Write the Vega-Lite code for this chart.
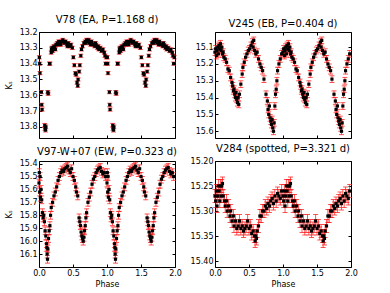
{
"$schema": "https://vega.github.io/schema/vega-lite/v6.json",
"padding": {"left": 4, "top": 14, "right": 0, "bottom": 0},
"config": {
 "font": "DejaVu Sans",
 "view": {"stroke": "#000", "strokeWidth": 1},
 "axis": {"domain": false, "grid": false, "tickColor": "#000", "tickSize": -3, "labelFontSize": 8, "labelColor": "#000", "labelFont": "DejaVu Sans", "titleFont": "DejaVu Sans", "titleFontSize": 8, "titleFontWeight": "normal", "titleColor": "#000", "labelPadding": 5, "labelFlush": false, "labelOverlap": false},
 "title": {"font": "DejaVu Sans", "fontSize": 10, "fontWeight": "normal", "offset": 3, "frame": "group", "color": "#000"}
},
"datasets": {
"a": [
{"p":0.005,"m":13.36,"e":0.01},{"p":0.01,"m":13.40,"e":0.01},{"p":0.015,"m":13.46,"e":0.01},{"p":0.035,"m":13.58,"e":0.01},{"p":0.04,"m":13.66,"e":0.01},{"p":0.045,"m":13.69,"e":0.01},{"p":0.085,"m":13.79,"e":0.012},{"p":0.09,"m":13.81,"e":0.012},{"p":0.095,"m":13.82,"e":0.012},{"p":0.1,"m":13.80,"e":0.012},{"p":0.13,"m":13.58,"e":0.01},{"p":0.135,"m":13.59,"e":0.01},{"p":0.155,"m":13.40,"e":0.01},{"p":0.16,"m":13.40,"e":0.01},{"p":0.18,"m":13.33,"e":0.01},{"p":0.185,"m":13.31,"e":0.01},{"p":0.19,"m":13.30,"e":0.01},{"p":0.2,"m":13.32,"e":0.01},{"p":0.21,"m":13.30,"e":0.01},{"p":0.22,"m":13.29,"e":0.01},{"p":0.23,"m":13.30,"e":0.01},{"p":0.24,"m":13.31,"e":0.01},{"p":0.25,"m":13.28,"e":0.01},{"p":0.27,"m":13.27,"e":0.01},{"p":0.28,"m":13.28,"e":0.01},{"p":0.29,"m":13.26,"e":0.01},{"p":0.31,"m":13.27,"e":0.01},{"p":0.32,"m":13.28,"e":0.01},{"p":0.33,"m":13.26,"e":0.01},{"p":0.35,"m":13.25,"e":0.01},{"p":0.36,"m":13.26,"e":0.01},{"p":0.37,"m":13.27,"e":0.01},{"p":0.39,"m":13.26,"e":0.01},{"p":0.41,"m":13.28,"e":0.01},{"p":0.42,"m":13.29,"e":0.01},{"p":0.43,"m":13.27,"e":0.01},{"p":0.45,"m":13.29,"e":0.01},{"p":0.47,"m":13.28,"e":0.01},{"p":0.49,"m":13.30,"e":0.01},{"p":0.505,"m":13.36,"e":0.01},{"p":0.52,"m":13.41,"e":0.01},{"p":0.535,"m":13.46,"e":0.01},{"p":0.545,"m":13.47,"e":0.01},{"p":0.56,"m":13.52,"e":0.01},{"p":0.57,"m":13.54,"e":0.01},{"p":0.575,"m":13.50,"e":0.01},{"p":0.59,"m":13.45,"e":0.01},{"p":0.6,"m":13.41,"e":0.01},{"p":0.615,"m":13.35,"e":0.01},{"p":0.625,"m":13.31,"e":0.01},{"p":0.64,"m":13.29,"e":0.01},{"p":0.66,"m":13.27,"e":0.01},{"p":0.68,"m":13.26,"e":0.01},{"p":0.69,"m":13.27,"e":0.01},{"p":0.7,"m":13.25,"e":0.01},{"p":0.72,"m":13.26,"e":0.01},{"p":0.73,"m":13.25,"e":0.01},{"p":0.74,"m":13.27,"e":0.01},{"p":0.76,"m":13.28,"e":0.01},{"p":0.77,"m":13.26,"e":0.01},{"p":0.78,"m":13.27,"e":0.01},{"p":0.8,"m":13.28,"e":0.01},{"p":0.82,"m":13.29,"e":0.01},{"p":0.83,"m":13.27,"e":0.01},{"p":0.84,"m":13.28,"e":0.01},{"p":0.86,"m":13.30,"e":0.01},{"p":0.87,"m":13.29,"e":0.01},{"p":0.88,"m":13.31,"e":0.01},{"p":0.9,"m":13.30,"e":0.01},{"p":0.92,"m":13.32,"e":0.01},{"p":0.94,"m":13.31,"e":0.01},{"p":0.96,"m":13.33,"e":0.01},{"p":0.97,"m":13.35,"e":0.01},{"p":0.98,"m":13.40,"e":0.01},{"p":0.99,"m":13.36,"e":0.01},
{"p":1.005,"m":13.36,"e":0.01},{"p":1.01,"m":13.40,"e":0.01},{"p":1.015,"m":13.46,"e":0.01},{"p":1.035,"m":13.58,"e":0.01},{"p":1.04,"m":13.66,"e":0.01},{"p":1.045,"m":13.69,"e":0.01},{"p":1.085,"m":13.79,"e":0.012},{"p":1.09,"m":13.81,"e":0.012},{"p":1.095,"m":13.82,"e":0.012},{"p":1.1,"m":13.80,"e":0.012},{"p":1.13,"m":13.58,"e":0.01},{"p":1.135,"m":13.59,"e":0.01},{"p":1.155,"m":13.40,"e":0.01},{"p":1.16,"m":13.40,"e":0.01},{"p":1.18,"m":13.33,"e":0.01},{"p":1.185,"m":13.31,"e":0.01},{"p":1.19,"m":13.30,"e":0.01},{"p":1.2,"m":13.32,"e":0.01},{"p":1.21,"m":13.30,"e":0.01},{"p":1.22,"m":13.29,"e":0.01},{"p":1.23,"m":13.30,"e":0.01},{"p":1.24,"m":13.31,"e":0.01},{"p":1.25,"m":13.28,"e":0.01},{"p":1.27,"m":13.27,"e":0.01},{"p":1.28,"m":13.28,"e":0.01},{"p":1.29,"m":13.26,"e":0.01},{"p":1.31,"m":13.27,"e":0.01},{"p":1.32,"m":13.28,"e":0.01},{"p":1.33,"m":13.26,"e":0.01},{"p":1.35,"m":13.25,"e":0.01},{"p":1.36,"m":13.26,"e":0.01},{"p":1.37,"m":13.27,"e":0.01},{"p":1.39,"m":13.26,"e":0.01},{"p":1.41,"m":13.28,"e":0.01},{"p":1.42,"m":13.29,"e":0.01},{"p":1.43,"m":13.27,"e":0.01},{"p":1.45,"m":13.29,"e":0.01},{"p":1.47,"m":13.28,"e":0.01},{"p":1.49,"m":13.30,"e":0.01},{"p":1.505,"m":13.36,"e":0.01},{"p":1.52,"m":13.41,"e":0.01},{"p":1.535,"m":13.46,"e":0.01},{"p":1.545,"m":13.47,"e":0.01},{"p":1.56,"m":13.52,"e":0.01},{"p":1.57,"m":13.54,"e":0.01},{"p":1.575,"m":13.50,"e":0.01},{"p":1.59,"m":13.45,"e":0.01},{"p":1.6,"m":13.41,"e":0.01},{"p":1.615,"m":13.35,"e":0.01},{"p":1.625,"m":13.31,"e":0.01},{"p":1.64,"m":13.29,"e":0.01},{"p":1.66,"m":13.27,"e":0.01},{"p":1.68,"m":13.26,"e":0.01},{"p":1.69,"m":13.27,"e":0.01},{"p":1.7,"m":13.25,"e":0.01},{"p":1.72,"m":13.26,"e":0.01},{"p":1.73,"m":13.25,"e":0.01},{"p":1.74,"m":13.27,"e":0.01},{"p":1.76,"m":13.28,"e":0.01},{"p":1.77,"m":13.26,"e":0.01},{"p":1.78,"m":13.27,"e":0.01},{"p":1.8,"m":13.28,"e":0.01},{"p":1.82,"m":13.29,"e":0.01},{"p":1.83,"m":13.27,"e":0.01},{"p":1.84,"m":13.28,"e":0.01},{"p":1.86,"m":13.30,"e":0.01},{"p":1.87,"m":13.29,"e":0.01},{"p":1.88,"m":13.31,"e":0.01},{"p":1.9,"m":13.30,"e":0.01},{"p":1.92,"m":13.32,"e":0.01},{"p":1.94,"m":13.31,"e":0.01},{"p":1.96,"m":13.33,"e":0.01},{"p":1.97,"m":13.35,"e":0.01},{"p":1.98,"m":13.40,"e":0.01},{"p":1.99,"m":13.36,"e":0.01}
],
"b": [
{"p":0.0,"m":15.13,"e":0.02},{"p":0.01,"m":15.11,"e":0.02},{"p":0.02,"m":15.15,"e":0.02},{"p":0.03,"m":15.12,"e":0.02},{"p":0.04,"m":15.10,"e":0.02},{"p":0.05,"m":15.14,"e":0.02},{"p":0.06,"m":15.09,"e":0.02},{"p":0.07,"m":15.11,"e":0.02},{"p":0.08,"m":15.08,"e":0.02},{"p":0.09,"m":15.12,"e":0.02},{"p":0.1,"m":15.10,"e":0.02},{"p":0.11,"m":15.14,"e":0.02},{"p":0.12,"m":15.13,"e":0.02},{"p":0.13,"m":15.16,"e":0.02},{"p":0.15,"m":15.17,"e":0.02},{"p":0.17,"m":15.19,"e":0.02},{"p":0.19,"m":15.23,"e":0.02},{"p":0.21,"m":15.24,"e":0.02},{"p":0.23,"m":15.28,"e":0.02},{"p":0.25,"m":15.31,"e":0.02},{"p":0.26,"m":15.33,"e":0.02},{"p":0.27,"m":15.36,"e":0.02},{"p":0.28,"m":15.35,"e":0.02},{"p":0.29,"m":15.38,"e":0.02},{"p":0.3,"m":15.40,"e":0.02},{"p":0.31,"m":15.37,"e":0.02},{"p":0.32,"m":15.41,"e":0.02},{"p":0.33,"m":15.43,"e":0.02},{"p":0.34,"m":15.40,"e":0.02},{"p":0.35,"m":15.44,"e":0.02},{"p":0.36,"m":15.38,"e":0.02},{"p":0.38,"m":15.32,"e":0.02},{"p":0.4,"m":15.26,"e":0.02},{"p":0.41,"m":15.22,"e":0.02},{"p":0.43,"m":15.19,"e":0.02},{"p":0.45,"m":15.16,"e":0.02},{"p":0.47,"m":15.14,"e":0.02},{"p":0.49,"m":15.12,"e":0.02},{"p":0.51,"m":15.11,"e":0.02},{"p":0.53,"m":15.09,"e":0.02},{"p":0.55,"m":15.07,"e":0.02},{"p":0.56,"m":15.10,"e":0.02},{"p":0.57,"m":15.06,"e":0.02},{"p":0.58,"m":15.12,"e":0.02},{"p":0.6,"m":15.14,"e":0.02},{"p":0.62,"m":15.13,"e":0.02},{"p":0.64,"m":15.17,"e":0.02},{"p":0.66,"m":15.20,"e":0.02},{"p":0.68,"m":15.22,"e":0.02},{"p":0.7,"m":15.24,"e":0.02},{"p":0.72,"m":15.29,"e":0.02},{"p":0.75,"m":15.38,"e":0.02},{"p":0.77,"m":15.42,"e":0.02},{"p":0.78,"m":15.47,"e":0.02},{"p":0.79,"m":15.50,"e":0.02},{"p":0.8,"m":15.45,"e":0.02},{"p":0.81,"m":15.52,"e":0.02},{"p":0.82,"m":15.54,"e":0.02},{"p":0.83,"m":15.56,"e":0.02},{"p":0.84,"m":15.53,"e":0.02},{"p":0.85,"m":15.58,"e":0.02},{"p":0.86,"m":15.60,"e":0.02},{"p":0.87,"m":15.55,"e":0.02},{"p":0.88,"m":15.45,"e":0.02},{"p":0.89,"m":15.38,"e":0.02},{"p":0.9,"m":15.35,"e":0.02},{"p":0.91,"m":15.30,"e":0.02},{"p":0.92,"m":15.24,"e":0.02},{"p":0.94,"m":15.20,"e":0.02},{"p":0.96,"m":15.17,"e":0.02},{"p":0.98,"m":15.14,"e":0.02},
{"p":1.0,"m":15.13,"e":0.02},{"p":1.01,"m":15.11,"e":0.02},{"p":1.02,"m":15.15,"e":0.02},{"p":1.03,"m":15.12,"e":0.02},{"p":1.04,"m":15.10,"e":0.02},{"p":1.05,"m":15.14,"e":0.02},{"p":1.06,"m":15.09,"e":0.02},{"p":1.07,"m":15.11,"e":0.02},{"p":1.08,"m":15.08,"e":0.02},{"p":1.09,"m":15.12,"e":0.02},{"p":1.1,"m":15.10,"e":0.02},{"p":1.11,"m":15.14,"e":0.02},{"p":1.12,"m":15.13,"e":0.02},{"p":1.13,"m":15.16,"e":0.02},{"p":1.15,"m":15.17,"e":0.02},{"p":1.17,"m":15.19,"e":0.02},{"p":1.19,"m":15.23,"e":0.02},{"p":1.21,"m":15.24,"e":0.02},{"p":1.23,"m":15.28,"e":0.02},{"p":1.25,"m":15.31,"e":0.02},{"p":1.26,"m":15.33,"e":0.02},{"p":1.27,"m":15.36,"e":0.02},{"p":1.28,"m":15.35,"e":0.02},{"p":1.29,"m":15.38,"e":0.02},{"p":1.3,"m":15.40,"e":0.02},{"p":1.31,"m":15.37,"e":0.02},{"p":1.32,"m":15.41,"e":0.02},{"p":1.33,"m":15.43,"e":0.02},{"p":1.34,"m":15.40,"e":0.02},{"p":1.35,"m":15.44,"e":0.02},{"p":1.36,"m":15.38,"e":0.02},{"p":1.38,"m":15.32,"e":0.02},{"p":1.4,"m":15.26,"e":0.02},{"p":1.41,"m":15.22,"e":0.02},{"p":1.43,"m":15.19,"e":0.02},{"p":1.45,"m":15.16,"e":0.02},{"p":1.47,"m":15.14,"e":0.02},{"p":1.49,"m":15.12,"e":0.02},{"p":1.51,"m":15.11,"e":0.02},{"p":1.53,"m":15.09,"e":0.02},{"p":1.55,"m":15.07,"e":0.02},{"p":1.56,"m":15.10,"e":0.02},{"p":1.57,"m":15.06,"e":0.02},{"p":1.58,"m":15.12,"e":0.02},{"p":1.6,"m":15.14,"e":0.02},{"p":1.62,"m":15.13,"e":0.02},{"p":1.64,"m":15.17,"e":0.02},{"p":1.66,"m":15.20,"e":0.02},{"p":1.68,"m":15.22,"e":0.02},{"p":1.7,"m":15.24,"e":0.02},{"p":1.72,"m":15.29,"e":0.02},{"p":1.75,"m":15.38,"e":0.02},{"p":1.77,"m":15.42,"e":0.02},{"p":1.78,"m":15.47,"e":0.02},{"p":1.79,"m":15.50,"e":0.02},{"p":1.8,"m":15.45,"e":0.02},{"p":1.81,"m":15.52,"e":0.02},{"p":1.82,"m":15.54,"e":0.02},{"p":1.83,"m":15.56,"e":0.02},{"p":1.84,"m":15.53,"e":0.02},{"p":1.85,"m":15.58,"e":0.02},{"p":1.86,"m":15.60,"e":0.02},{"p":1.87,"m":15.55,"e":0.02},{"p":1.88,"m":15.45,"e":0.02},{"p":1.89,"m":15.38,"e":0.02},{"p":1.9,"m":15.35,"e":0.02},{"p":1.91,"m":15.30,"e":0.02},{"p":1.92,"m":15.24,"e":0.02},{"p":1.94,"m":15.20,"e":0.02},{"p":1.96,"m":15.17,"e":0.02},{"p":1.98,"m":15.14,"e":0.02}
],
"c": [
{"p":0.0,"m":15.55,"e":0.03},{"p":0.005,"m":15.47,"e":0.03},{"p":0.01,"m":15.62,"e":0.03},{"p":0.015,"m":15.50,"e":0.03},{"p":0.02,"m":15.66,"e":0.03},{"p":0.03,"m":15.60,"e":0.03},{"p":0.04,"m":15.68,"e":0.03},{"p":0.05,"m":15.78,"e":0.03},{"p":0.06,"m":15.82,"e":0.03},{"p":0.07,"m":15.80,"e":0.03},{"p":0.08,"m":15.85,"e":0.03},{"p":0.09,"m":15.92,"e":0.03},{"p":0.1,"m":15.96,"e":0.03},{"p":0.11,"m":16.02,"e":0.03},{"p":0.115,"m":16.05,"e":0.03},{"p":0.12,"m":16.10,"e":0.03},{"p":0.125,"m":16.14,"e":0.03},{"p":0.13,"m":16.06,"e":0.03},{"p":0.14,"m":15.98,"e":0.03},{"p":0.15,"m":15.92,"e":0.03},{"p":0.16,"m":15.88,"e":0.03},{"p":0.17,"m":15.80,"e":0.03},{"p":0.18,"m":15.74,"e":0.03},{"p":0.2,"m":15.70,"e":0.03},{"p":0.22,"m":15.65,"e":0.03},{"p":0.24,"m":15.62,"e":0.03},{"p":0.26,"m":15.58,"e":0.03},{"p":0.28,"m":15.53,"e":0.03},{"p":0.3,"m":15.50,"e":0.03},{"p":0.32,"m":15.47,"e":0.03},{"p":0.34,"m":15.45,"e":0.03},{"p":0.36,"m":15.46,"e":0.03},{"p":0.38,"m":15.44,"e":0.03},{"p":0.4,"m":15.43,"e":0.03},{"p":0.42,"m":15.42,"e":0.03},{"p":0.44,"m":15.45,"e":0.03},{"p":0.46,"m":15.47,"e":0.03},{"p":0.48,"m":15.44,"e":0.03},{"p":0.5,"m":15.50,"e":0.03},{"p":0.52,"m":15.53,"e":0.03},{"p":0.54,"m":15.58,"e":0.03},{"p":0.55,"m":15.62,"e":0.03},{"p":0.57,"m":15.65,"e":0.03},{"p":0.59,"m":15.82,"e":0.03},{"p":0.6,"m":15.85,"e":0.03},{"p":0.61,"m":15.88,"e":0.03},{"p":0.62,"m":15.93,"e":0.03},{"p":0.63,"m":15.96,"e":0.03},{"p":0.64,"m":15.98,"e":0.03},{"p":0.65,"m":16.00,"e":0.03},{"p":0.66,"m":15.97,"e":0.03},{"p":0.67,"m":15.92,"e":0.03},{"p":0.68,"m":15.88,"e":0.03},{"p":0.69,"m":15.82,"e":0.03},{"p":0.7,"m":15.78,"e":0.03},{"p":0.72,"m":15.70,"e":0.03},{"p":0.74,"m":15.66,"e":0.03},{"p":0.76,"m":15.62,"e":0.03},{"p":0.78,"m":15.56,"e":0.03},{"p":0.8,"m":15.52,"e":0.03},{"p":0.82,"m":15.50,"e":0.03},{"p":0.84,"m":15.47,"e":0.03},{"p":0.86,"m":15.45,"e":0.03},{"p":0.88,"m":15.44,"e":0.03},{"p":0.9,"m":15.43,"e":0.03},{"p":0.92,"m":15.46,"e":0.03},{"p":0.94,"m":15.48,"e":0.03},{"p":0.96,"m":15.47,"e":0.03},{"p":0.98,"m":15.50,"e":0.03},
{"p":1.0,"m":15.55,"e":0.03},{"p":1.005,"m":15.47,"e":0.03},{"p":1.01,"m":15.62,"e":0.03},{"p":1.015,"m":15.50,"e":0.03},{"p":1.02,"m":15.66,"e":0.03},{"p":1.03,"m":15.60,"e":0.03},{"p":1.04,"m":15.68,"e":0.03},{"p":1.05,"m":15.78,"e":0.03},{"p":1.06,"m":15.82,"e":0.03},{"p":1.07,"m":15.80,"e":0.03},{"p":1.08,"m":15.85,"e":0.03},{"p":1.09,"m":15.92,"e":0.03},{"p":1.1,"m":15.96,"e":0.03},{"p":1.11,"m":16.02,"e":0.03},{"p":1.115,"m":16.05,"e":0.03},{"p":1.12,"m":16.10,"e":0.03},{"p":1.125,"m":16.14,"e":0.03},{"p":1.13,"m":16.06,"e":0.03},{"p":1.14,"m":15.98,"e":0.03},{"p":1.15,"m":15.92,"e":0.03},{"p":1.16,"m":15.88,"e":0.03},{"p":1.17,"m":15.80,"e":0.03},{"p":1.18,"m":15.74,"e":0.03},{"p":1.2,"m":15.70,"e":0.03},{"p":1.22,"m":15.65,"e":0.03},{"p":1.24,"m":15.62,"e":0.03},{"p":1.26,"m":15.58,"e":0.03},{"p":1.28,"m":15.53,"e":0.03},{"p":1.3,"m":15.50,"e":0.03},{"p":1.32,"m":15.47,"e":0.03},{"p":1.34,"m":15.45,"e":0.03},{"p":1.36,"m":15.46,"e":0.03},{"p":1.38,"m":15.44,"e":0.03},{"p":1.4,"m":15.43,"e":0.03},{"p":1.42,"m":15.42,"e":0.03},{"p":1.44,"m":15.45,"e":0.03},{"p":1.46,"m":15.47,"e":0.03},{"p":1.48,"m":15.44,"e":0.03},{"p":1.5,"m":15.50,"e":0.03},{"p":1.52,"m":15.53,"e":0.03},{"p":1.54,"m":15.58,"e":0.03},{"p":1.55,"m":15.62,"e":0.03},{"p":1.57,"m":15.65,"e":0.03},{"p":1.59,"m":15.82,"e":0.03},{"p":1.6,"m":15.85,"e":0.03},{"p":1.61,"m":15.88,"e":0.03},{"p":1.62,"m":15.93,"e":0.03},{"p":1.63,"m":15.96,"e":0.03},{"p":1.64,"m":15.98,"e":0.03},{"p":1.65,"m":16.00,"e":0.03},{"p":1.66,"m":15.97,"e":0.03},{"p":1.67,"m":15.92,"e":0.03},{"p":1.68,"m":15.88,"e":0.03},{"p":1.69,"m":15.82,"e":0.03},{"p":1.7,"m":15.78,"e":0.03},{"p":1.72,"m":15.70,"e":0.03},{"p":1.74,"m":15.66,"e":0.03},{"p":1.76,"m":15.62,"e":0.03},{"p":1.78,"m":15.56,"e":0.03},{"p":1.8,"m":15.52,"e":0.03},{"p":1.82,"m":15.50,"e":0.03},{"p":1.84,"m":15.47,"e":0.03},{"p":1.86,"m":15.45,"e":0.03},{"p":1.88,"m":15.44,"e":0.03},{"p":1.9,"m":15.43,"e":0.03},{"p":1.92,"m":15.46,"e":0.03},{"p":1.94,"m":15.48,"e":0.03},{"p":1.96,"m":15.47,"e":0.03},{"p":1.98,"m":15.50,"e":0.03}
],
"d": [
{"p":0.0,"m":15.27,"e":0.013},{"p":0.01,"m":15.28,"e":0.013},{"p":0.02,"m":15.26,"e":0.013},{"p":0.03,"m":15.29,"e":0.013},{"p":0.04,"m":15.27,"e":0.013},{"p":0.05,"m":15.25,"e":0.013},{"p":0.06,"m":15.26,"e":0.013},{"p":0.07,"m":15.28,"e":0.013},{"p":0.08,"m":15.25,"e":0.013},{"p":0.09,"m":15.27,"e":0.013},{"p":0.1,"m":15.25,"e":0.013},{"p":0.11,"m":15.245,"e":0.013},{"p":0.12,"m":15.27,"e":0.013},{"p":0.14,"m":15.28,"e":0.013},{"p":0.15,"m":15.29,"e":0.013},{"p":0.17,"m":15.28,"e":0.013},{"p":0.18,"m":15.30,"e":0.013},{"p":0.2,"m":15.29,"e":0.013},{"p":0.22,"m":15.31,"e":0.013},{"p":0.23,"m":15.30,"e":0.013},{"p":0.25,"m":15.32,"e":0.013},{"p":0.27,"m":15.31,"e":0.013},{"p":0.28,"m":15.33,"e":0.013},{"p":0.3,"m":15.32,"e":0.013},{"p":0.32,"m":15.335,"e":0.013},{"p":0.34,"m":15.33,"e":0.013},{"p":0.36,"m":15.32,"e":0.013},{"p":0.38,"m":15.335,"e":0.013},{"p":0.4,"m":15.33,"e":0.013},{"p":0.42,"m":15.34,"e":0.013},{"p":0.44,"m":15.335,"e":0.013},{"p":0.46,"m":15.33,"e":0.013},{"p":0.48,"m":15.32,"e":0.013},{"p":0.5,"m":15.335,"e":0.013},{"p":0.52,"m":15.33,"e":0.013},{"p":0.54,"m":15.345,"e":0.013},{"p":0.56,"m":15.34,"e":0.013},{"p":0.58,"m":15.35,"e":0.013},{"p":0.59,"m":15.36,"e":0.013},{"p":0.6,"m":15.35,"e":0.013},{"p":0.61,"m":15.355,"e":0.013},{"p":0.62,"m":15.34,"e":0.013},{"p":0.64,"m":15.33,"e":0.013},{"p":0.66,"m":15.31,"e":0.013},{"p":0.68,"m":15.31,"e":0.013},{"p":0.7,"m":15.30,"e":0.013},{"p":0.72,"m":15.30,"e":0.013},{"p":0.74,"m":15.29,"e":0.013},{"p":0.76,"m":15.295,"e":0.013},{"p":0.78,"m":15.285,"e":0.013},{"p":0.8,"m":15.29,"e":0.013},{"p":0.82,"m":15.28,"e":0.013},{"p":0.84,"m":15.275,"e":0.013},{"p":0.86,"m":15.285,"e":0.013},{"p":0.88,"m":15.27,"e":0.013},{"p":0.9,"m":15.28,"e":0.013},{"p":0.92,"m":15.265,"e":0.013},{"p":0.94,"m":15.27,"e":0.013},{"p":0.96,"m":15.275,"e":0.013},{"p":0.98,"m":15.26,"e":0.013},
{"p":1.0,"m":15.27,"e":0.013},{"p":1.01,"m":15.28,"e":0.013},{"p":1.02,"m":15.26,"e":0.013},{"p":1.03,"m":15.29,"e":0.013},{"p":1.04,"m":15.27,"e":0.013},{"p":1.05,"m":15.25,"e":0.013},{"p":1.06,"m":15.26,"e":0.013},{"p":1.07,"m":15.28,"e":0.013},{"p":1.08,"m":15.25,"e":0.013},{"p":1.09,"m":15.27,"e":0.013},{"p":1.1,"m":15.25,"e":0.013},{"p":1.11,"m":15.245,"e":0.013},{"p":1.12,"m":15.27,"e":0.013},{"p":1.14,"m":15.28,"e":0.013},{"p":1.15,"m":15.29,"e":0.013},{"p":1.17,"m":15.28,"e":0.013},{"p":1.18,"m":15.30,"e":0.013},{"p":1.2,"m":15.29,"e":0.013},{"p":1.22,"m":15.31,"e":0.013},{"p":1.23,"m":15.30,"e":0.013},{"p":1.25,"m":15.32,"e":0.013},{"p":1.27,"m":15.31,"e":0.013},{"p":1.28,"m":15.33,"e":0.013},{"p":1.3,"m":15.32,"e":0.013},{"p":1.32,"m":15.335,"e":0.013},{"p":1.34,"m":15.33,"e":0.013},{"p":1.36,"m":15.32,"e":0.013},{"p":1.38,"m":15.335,"e":0.013},{"p":1.4,"m":15.33,"e":0.013},{"p":1.42,"m":15.34,"e":0.013},{"p":1.44,"m":15.335,"e":0.013},{"p":1.46,"m":15.33,"e":0.013},{"p":1.48,"m":15.32,"e":0.013},{"p":1.5,"m":15.335,"e":0.013},{"p":1.52,"m":15.33,"e":0.013},{"p":1.54,"m":15.345,"e":0.013},{"p":1.56,"m":15.34,"e":0.013},{"p":1.58,"m":15.35,"e":0.013},{"p":1.59,"m":15.36,"e":0.013},{"p":1.6,"m":15.35,"e":0.013},{"p":1.61,"m":15.355,"e":0.013},{"p":1.62,"m":15.34,"e":0.013},{"p":1.64,"m":15.33,"e":0.013},{"p":1.66,"m":15.31,"e":0.013},{"p":1.68,"m":15.31,"e":0.013},{"p":1.7,"m":15.30,"e":0.013},{"p":1.72,"m":15.30,"e":0.013},{"p":1.74,"m":15.29,"e":0.013},{"p":1.76,"m":15.295,"e":0.013},{"p":1.78,"m":15.285,"e":0.013},{"p":1.8,"m":15.29,"e":0.013},{"p":1.82,"m":15.28,"e":0.013},{"p":1.84,"m":15.275,"e":0.013},{"p":1.86,"m":15.285,"e":0.013},{"p":1.88,"m":15.27,"e":0.013},{"p":1.9,"m":15.28,"e":0.013},{"p":1.92,"m":15.265,"e":0.013},{"p":1.94,"m":15.27,"e":0.013},{"p":1.96,"m":15.275,"e":0.013},{"p":1.98,"m":15.26,"e":0.013}
]
},
"columns": 2,
"spacing": {"row": 23, "column": 40},
"bounds": "flush",
"concat": [
{
 "title": {"text": "V78 (EA, P=1.168 d)"},
 "width": 136, "height": 106,
 "data": {"name": "a"},
 "layer": [
  {"mark": {"type": "errorbar", "ticks": {"size": 5}, "color": "#ff1a1a", "opacity": 0.75, "thickness": 1},
   "encoding": {
    "x": {"field": "p", "type": "quantitative", "scale": {"domain": [0, 2], "nice": false}, "axis": {"orient": "bottom", "values": [0, 0.5, 1, 1.5, 2], "labels": false, "title": null}},
    "y": {"field": "m", "type": "quantitative", "scale": {"domain": [13.2, 13.87], "reverse": true, "nice": false, "zero": false}, "axis": {"orient": "left", "values": [13.2, 13.3, 13.4, 13.5, 13.6, 13.7, 13.8], "format": ".1f", "title": "Kₛ", "titlePadding": 6}},
    "yError": {"field": "e"}}},
  {"mark": {"type": "point", "shape": "square", "filled": true, "color": "#000", "opacity": 1, "size": 10},
   "encoding": {
    "x": {"field": "p", "type": "quantitative", "axis": {"orient": "top", "values": [0, 0.5, 1, 1.5, 2], "labels": false, "title": null}},
    "y": {"field": "m", "type": "quantitative", "axis": {"orient": "right", "values": [13.2, 13.3, 13.4, 13.5, 13.6, 13.7, 13.8], "labels": false, "title": null}}}}
 ],
 "resolve": {"axis": {"x": "independent", "y": "independent"}}
},
{
 "title": {"text": "V245 (EB, P=0.404 d)"},
 "width": 136, "height": 106,
 "data": {"name": "b"},
 "layer": [
  {"mark": {"type": "errorbar", "ticks": {"size": 5}, "color": "#ff1a1a", "opacity": 0.75, "thickness": 1},
   "encoding": {
    "x": {"field": "p", "type": "quantitative", "scale": {"domain": [0, 2], "nice": false}, "axis": {"orient": "bottom", "values": [0, 0.5, 1, 1.5, 2], "labels": false, "title": null}},
    "y": {"field": "m", "type": "quantitative", "scale": {"domain": [15.01, 15.64], "reverse": true, "nice": false, "zero": false}, "axis": {"orient": "left", "values": [15.1, 15.2, 15.3, 15.4, 15.5, 15.6], "format": ".1f", "title": null}},
    "yError": {"field": "e"}}},
  {"mark": {"type": "point", "shape": "square", "filled": true, "color": "#000", "opacity": 1, "size": 10},
   "encoding": {
    "x": {"field": "p", "type": "quantitative", "axis": {"orient": "top", "values": [0, 0.5, 1, 1.5, 2], "labels": false, "title": null}},
    "y": {"field": "m", "type": "quantitative", "axis": {"orient": "right", "values": [15.1, 15.2, 15.3, 15.4, 15.5, 15.6], "labels": false, "title": null}}}}
 ],
 "resolve": {"axis": {"x": "independent", "y": "independent"}}
},
{
 "title": {"text": "V97-W+07 (EW, P=0.323 d)"},
 "width": 136, "height": 106,
 "data": {"name": "c"},
 "layer": [
  {"mark": {"type": "errorbar", "ticks": {"size": 5}, "color": "#ff1a1a", "opacity": 0.75, "thickness": 1},
   "encoding": {
    "x": {"field": "p", "type": "quantitative", "scale": {"domain": [0, 2], "nice": false}, "axis": {"orient": "bottom", "values": [0, 0.5, 1, 1.5, 2], "format": ".1f", "title": "Phase", "titlePadding": 3}},
    "y": {"field": "m", "type": "quantitative", "scale": {"domain": [15.38, 16.2], "reverse": true, "nice": false, "zero": false}, "axis": {"orient": "left", "values": [15.4, 15.5, 15.6, 15.7, 15.8, 15.9, 16.0, 16.1], "format": ".1f", "title": "Kₛ", "titlePadding": 6}},
    "yError": {"field": "e"}}},
  {"mark": {"type": "point", "shape": "square", "filled": true, "color": "#000", "opacity": 1, "size": 10},
   "encoding": {
    "x": {"field": "p", "type": "quantitative", "axis": {"orient": "top", "values": [0, 0.5, 1, 1.5, 2], "labels": false, "title": null}},
    "y": {"field": "m", "type": "quantitative", "axis": {"orient": "right", "values": [15.4, 15.5, 15.6, 15.7, 15.8, 15.9, 16.0, 16.1], "labels": false, "title": null}}}}
 ],
 "resolve": {"axis": {"x": "independent", "y": "independent"}}
},
{
 "title": {"text": "V284 (spotted, P=3.321 d)"},
 "width": 136, "height": 106,
 "data": {"name": "d"},
 "layer": [
  {"mark": {"type": "errorbar", "ticks": {"size": 5}, "color": "#ff1a1a", "opacity": 0.75, "thickness": 1},
   "encoding": {
    "x": {"field": "p", "type": "quantitative", "scale": {"domain": [0, 2], "nice": false}, "axis": {"orient": "bottom", "values": [0, 0.5, 1, 1.5, 2], "format": ".1f", "title": "Phase", "titlePadding": 3}},
    "y": {"field": "m", "type": "quantitative", "scale": {"domain": [15.2, 15.412], "reverse": true, "nice": false, "zero": false}, "axis": {"orient": "left", "values": [15.2, 15.25, 15.3, 15.35, 15.4], "format": ".2f", "title": null}},
    "yError": {"field": "e"}}},
  {"mark": {"type": "point", "shape": "square", "filled": true, "color": "#000", "opacity": 1, "size": 10},
   "encoding": {
    "x": {"field": "p", "type": "quantitative", "axis": {"orient": "top", "values": [0, 0.5, 1, 1.5, 2], "labels": false, "title": null}},
    "y": {"field": "m", "type": "quantitative", "axis": {"orient": "right", "values": [15.2, 15.25, 15.3, 15.35, 15.4], "labels": false, "title": null}}}}
 ],
 "resolve": {"axis": {"x": "independent", "y": "independent"}}
}
]
}
